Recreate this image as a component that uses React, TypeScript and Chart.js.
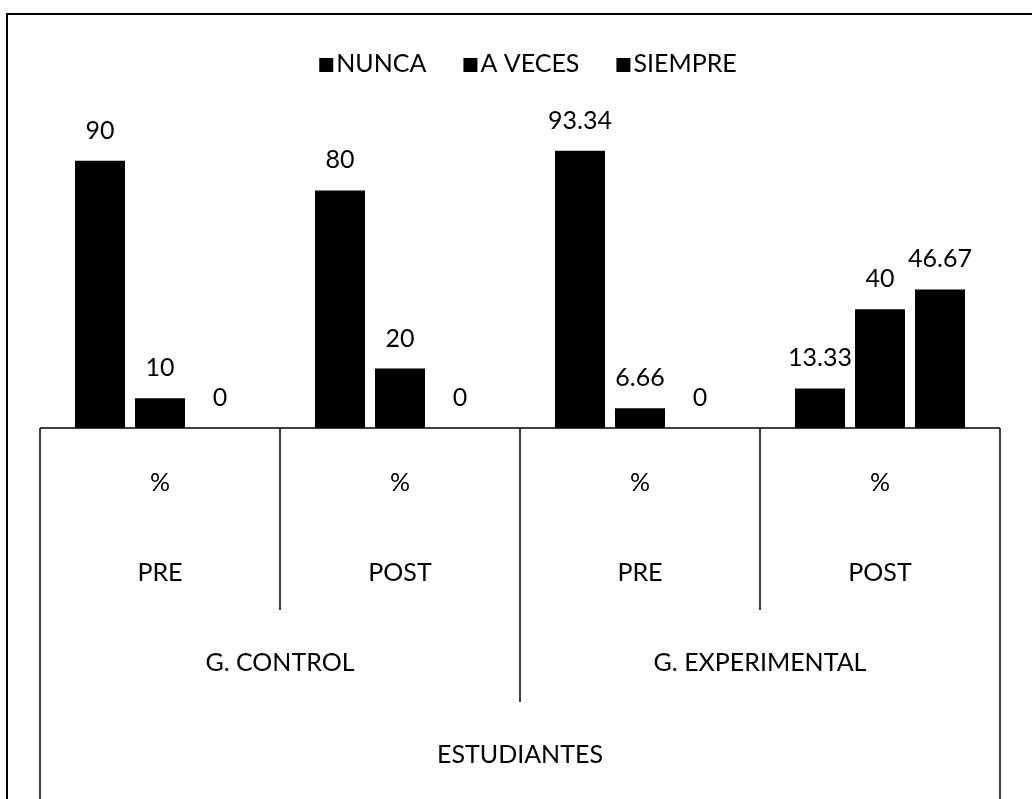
import React, { useEffect, useRef } from "react";
import { Chart, registerables } from "chart.js";

Chart.register(...registerables);

const seriesNames = ["NUNCA", "A VECES", "SIEMPRE"];
const measureLabels = ["%", "%", "%", "%"];
const phaseLabels = ["PRE", "POST", "PRE", "POST"];
const groupLabels = ["G. CONTROL", "G. EXPERIMENTAL"];
const topLabel = "ESTUDIANTES";
const nunca = [90, 80, 93.34, 13.33];
const aVeces = [10, 20, 6.66, 40];
const siempre = [0, 0, 0, 46.67];

const FONT = "Lato, 'Open Sans', sans-serif";

const overlay = {
  id: "overlay",
  afterDraw(chart: any) {
    const { ctx, chartArea, scales } = chart;
    const x = scales.x;
    ctx.save();
    // outer frame
    ctx.strokeStyle = "#000";
    ctx.lineWidth = 2;
    ctx.beginPath();
    ctx.moveTo(7, chart.height);
    ctx.lineTo(7, 14);
    ctx.lineTo(chart.width, 14);
    ctx.stroke();

    // legend
    ctx.font = `25px ${FONT}`;
    ctx.fillStyle = "#000";
    ctx.textBaseline = "alphabetic";
    ctx.textAlign = "left";
    const box = 14;
    const gap = 3;
    const spacing = 37;
    const items = chart.data.datasets.map((d: any) => ({
      label: d.label,
      color: d.backgroundColor,
      w: ctx.measureText(d.label).width,
    }));
    const total =
      items.reduce((s: number, it: any) => s + box + gap + it.w, 0) +
      spacing * (items.length - 1);
    let lx = 528 - total / 2;
    const ly = 72;
    items.forEach((it: any) => {
      ctx.fillStyle = it.color;
      ctx.fillRect(lx, ly - box, box, box);
      ctx.fillStyle = "#000";
      ctx.fillText(it.label, lx + box + gap, ly);
      lx += box + gap + it.w + spacing;
    });

    // data labels
    ctx.textAlign = "center";
    chart.data.datasets.forEach((ds: any, di: number) => {
      const meta = chart.getDatasetMeta(di);
      meta.data.forEach((bar: any, i: number) => {
        ctx.fillText(String(ds.data[i]), bar.x, bar.y - 22);
      });
    });

    // axis line
    const base = chartArea.bottom;
    ctx.lineWidth = 1.5;
    ctx.beginPath();
    ctx.moveTo(chartArea.left, base);
    ctx.lineTo(chartArea.right, base);
    ctx.stroke();

    // category boundaries
    const n = phaseLabels.length;
    const centers = phaseLabels.map((_, i) => x.getPixelForValue(i));
    const half = (centers[1] - centers[0]) / 2;
    const bounds: number[] = [];
    for (let i = 0; i <= n; i++) bounds.push(i < n ? centers[i] - half : centers[n - 1] + half);
    const bottoms = [chart.height, 610, 702, 610, chart.height];
    bounds.forEach((bx, i) => {
      ctx.beginPath();
      ctx.moveTo(bx, base);
      ctx.lineTo(bx, bottoms[i]);
      ctx.stroke();
    });

    // hierarchical labels
    ctx.textBaseline = "middle";
    measureLabels.forEach((t, i) => ctx.fillText(t, centers[i], 483));
    phaseLabels.forEach((t, i) => ctx.fillText(t, centers[i], 573));
    groupLabels.forEach((t, g) =>
      ctx.fillText(t, (centers[g * 2] + centers[g * 2 + 1]) / 2, 663)
    );
    ctx.fillText(topLabel, (bounds[0] + bounds[n]) / 2, 755);
    ctx.restore();
  },
};

export default function App() {
  const ref = useRef<HTMLCanvasElement>(null);
  useEffect(() => {
    if (!ref.current) return;
    const chart = new Chart(ref.current, {
      type: "bar",
      data: {
        labels: phaseLabels,
        datasets: [
          { label: seriesNames[0], data: nunca, backgroundColor: "#000" },
          { label: seriesNames[1], data: aVeces, backgroundColor: "#000" },
          { label: seriesNames[2], data: siempre, backgroundColor: "#000" },
        ],
      },
      options: {
        responsive: false,
        maintainAspectRatio: false,
        animation: false,
        layout: { padding: { left: 40, right: 32, top: 131, bottom: 371 } },
        datasets: {
          bar: { categoryPercentage: 0.75, barPercentage: 5 / 6 },
        },
        scales: {
          x: { display: false },
          y: { display: false, min: 0, max: 100 },
        },
        plugins: {
          legend: { display: false },
          tooltip: { enabled: false },
        },
      },
      plugins: [overlay],
    });
    return () => chart.destroy();
  }, []);
  return (
    <div style={{ position: "fixed", left: 0, top: 0, width: 1032, height: 799, background: "#fff" }}>
      <canvas ref={ref} width={1032} height={799} />
    </div>
  );
}
